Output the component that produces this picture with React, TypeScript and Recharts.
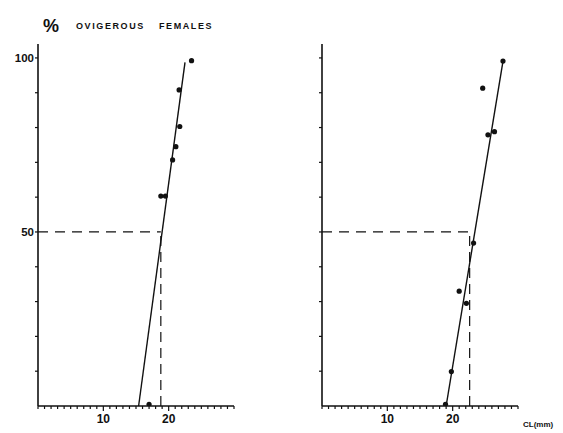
import { ComposedChart, ReferenceLine, Scatter, XAxis, YAxis } from 'recharts'

// size (CL, mm) and % ovigerous
const leftSizes = [17.0, 18.8, 19.5, 20.6, 21.1, 21.7, 21.6, 23.5]
const leftPercents = [0.5, 60.3, 60.3, 70.7, 74.5, 80.3, 90.8, 99.2]
const leftFit = [
  { x: 15.4, y: 0 },
  { x: 22.5, y: 98.7 },
]
const leftL50 = 18.8

const rightSizes = [18.9, 19.8, 21.0, 22.1, 23.2, 25.4, 26.4, 24.6, 27.7]
const rightPercents = [0.5, 9.9, 33.0, 29.5, 46.8, 77.9, 78.8, 91.3, 99.1]
const rightFit = [
  { x: 19.0, y: 0 },
  { x: 27.7, y: 99 },
]
const rightL50 = 22.6

const xTicks = Array.from({ length: 31 }, (_, i) => i)
const xLabels = [10, 20]
const yTicks = [10, 20, 30, 40, 50, 60, 70, 80, 90, 100]
const yLabels = [50, 100]

const font = '"Liberation Sans", Arial, sans-serif'

function XTick({ x, y, payload }: { x?: number; y?: number; payload?: { value: number } }) {
  const v = payload?.value ?? 0
  const major = xLabels.includes(v)
  return (
    <g>
      <line x1={x} x2={x} y1={y} y2={(y ?? 0) + (major ? 5 : 3)} stroke="#111" strokeWidth={1.2} />
      {major && (
        <text x={x} y={(y ?? 0) + 17} textAnchor="middle" fontSize={12} fontWeight={700} fill="#111" fontFamily={font}>
          {v}
        </text>
      )}
    </g>
  )
}

function YTick({ x, y, payload, showLabels }: { x?: number; y?: number; payload?: { value: number }; showLabels?: boolean }) {
  const v = payload?.value ?? 0
  return (
    <g>
      <line x1={(x ?? 0) - 3} x2={x} y1={y} y2={y} stroke="#111" strokeWidth={1.2} />
      {showLabels && yLabels.includes(v) && (
        <text x={(x ?? 0) - 4} y={(y ?? 0) + 4} textAnchor="end" fontSize={11.5} fontWeight={700} fill="#111" fontFamily={font}>
          {v}
        </text>
      )}
    </g>
  )
}

function Panel({
  sizes,
  percents,
  fit,
  l50,
  marginLeft,
  width,
  showLabels,
}: {
  sizes: number[]
  percents: number[]
  fit: { x: number; y: number }[]
  l50: number
  marginLeft: number
  width: number
  showLabels: boolean
}) {
  const points = sizes.map((s, i) => ({ x: s, y: percents[i] }))
  return (
    <ComposedChart width={width} height={433} margin={{ top: 44, right: width - marginLeft - 30 - 196, bottom: 5, left: marginLeft }}>
      <XAxis
        type="number"
        dataKey="x"
        domain={[0, 30]}
        ticks={xTicks}
        interval={0}
        allowDataOverflow
        axisLine={{ stroke: '#111', strokeWidth: 1.6 }}
        tickLine={false}
        tickSize={0}
        tickMargin={0}
        height={22}
        tick={<XTick />}
      />
      <YAxis
        type="number"
        dataKey="y"
        domain={[0, 104]}
        ticks={yTicks}
        interval={0}
        allowDataOverflow
        width={30}
        axisLine={{ stroke: '#111', strokeWidth: 1.6 }}
        tickLine={false}
        tickSize={0}
        tickMargin={0}
        tick={<YTick showLabels={showLabels} />}
      />
      <ReferenceLine
        segment={[
          { x: 0, y: 50 },
          { x: l50, y: 50 },
        ]}
        stroke="#111"
        strokeWidth={1.2}
        strokeDasharray="10 7"
      />
      <ReferenceLine
        segment={[
          { x: l50, y: 0 },
          { x: l50, y: 50 },
        ]}
        stroke="#111"
        strokeWidth={1.2}
        strokeDasharray="10 6"
      />
      <ReferenceLine segment={fit} stroke="#111" strokeWidth={1.4} />
      <Scatter data={points} fill="#111" isAnimationActive={false} shape={(p: any) => <circle cx={p.cx} cy={p.cy} r={2.6} fill="#111" />} />
    </ComposedChart>
  )
}

export default function App() {
  return (
    <div style={{ position: 'absolute', left: 0, top: 0, width: 563, height: 433, background: '#fff', overflow: 'hidden' }}>
      <div style={{ position: 'absolute', left: 0, top: 0 }}>
        <Panel sizes={leftSizes} percents={leftPercents} fit={leftFit} l50={leftL50} marginLeft={8} width={280} showLabels />
      </div>
      <div style={{ position: 'absolute', left: 280, top: 0 }}>
        <Panel sizes={rightSizes} percents={rightPercents} fit={rightFit} l50={rightL50} marginLeft={12} width={283} showLabels={false} />
      </div>
      <div style={{ position: 'absolute', left: 43, top: 16, fontFamily: font, color: '#111', whiteSpace: 'nowrap' }}>
        <span style={{ fontSize: 18, fontWeight: 700 }}>%</span>
        <span style={{ fontSize: 9, fontWeight: 700, letterSpacing: 1.6, marginLeft: 17, verticalAlign: 3 }}>OVIGEROUS</span>
        <span style={{ fontSize: 9, fontWeight: 700, letterSpacing: 1.6, marginLeft: 14, verticalAlign: 3 }}>FEMALES</span>
      </div>
      <div style={{ position: 'absolute', left: 523, top: 420, fontFamily: font, fontSize: 8, fontWeight: 700, color: '#111' }}>
        CL(mm)
      </div>
    </div>
  )
}
